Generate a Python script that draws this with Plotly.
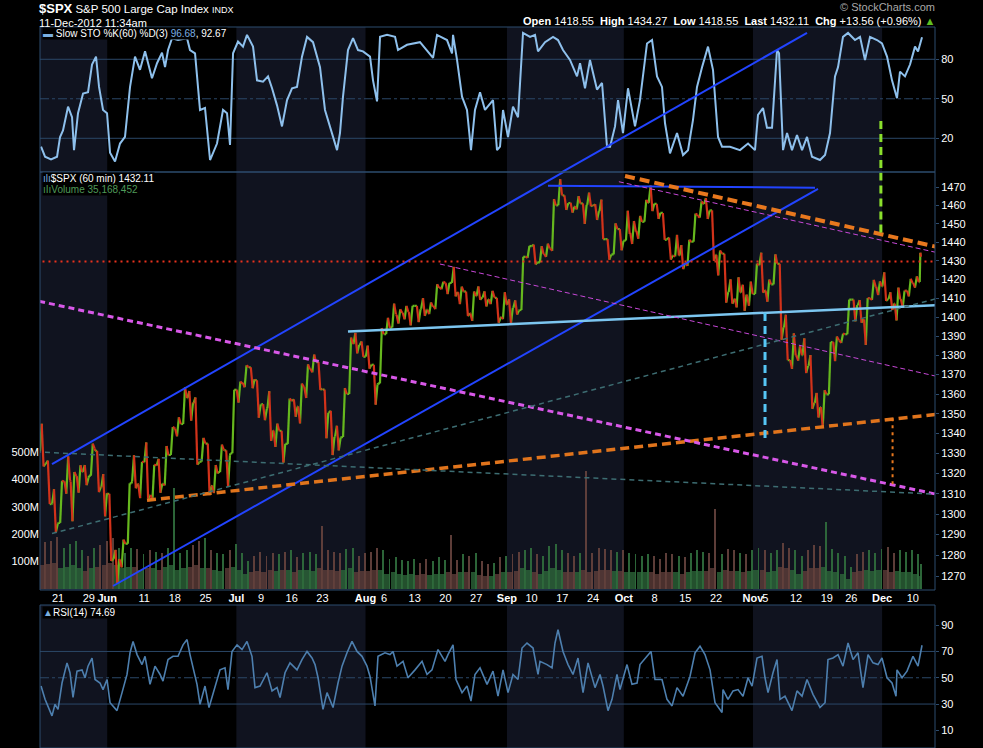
import math
import pandas as pd
import plotly.graph_objects as go

# ---------------- calendar ----------------
holidays = ['2012-05-28', '2012-07-04', '2012-09-03', '2012-10-29', '2012-10-30', '2012-11-22']
all_days = pd.bdate_range('2012-05-16', '2012-12-11')
trade_days = [d.strftime('%Y-%m-%d') for d in all_days if d.strftime('%Y-%m-%d') not in holidays]
i0 = trade_days.index('2012-05-21')
day_pos = {d: i - i0 for i, d in enumerate(trade_days)}

# ---------------- daily price data (SPX) ----------------
opens = [1330.8, 1324.8, 1305.1, 1295.7, 1316.1, 1316.0, 1318.7, 1320.8, 1318.9, 1331.3, 1313.1,
         1309.9, 1278.3, 1277.8, 1285.6, 1316.2, 1314.6, 1325.7, 1309.4, 1324.0, 1314.9, 1329.2, 1342.4, 1344.8, 1358.0, 1355.4, 1325.9, 1334.9, 1314.1, 1320.7, 1331.5, 1330.1,
         1362.3, 1365.8, 1373.7, 1367.1, 1354.7, 1352.9, 1341.4, 1341.3, 1334.8, 1356.5, 1353.7, 1363.6, 1373.0, 1376.5, 1362.3, 1350.5, 1338.4, 1338.2, 1360.1, 1385.9, 1385.3,
         1379.3, 1375.1, 1365.5, 1391.0, 1394.5, 1401.2, 1402.3, 1402.6, 1405.9, 1404.4, 1403.9, 1405.8, 1415.8, 1417.9, 1418.1, 1413.1, 1413.5, 1401.9, 1411.1, 1410.4, 1409.3, 1410.1, 1400.1,
         1406.5, 1404.9, 1403.7, 1432.1, 1437.9, 1429.1, 1433.6, 1436.6, 1460.1, 1465.4, 1461.2, 1459.5, 1461.1, 1460.3, 1459.8, 1456.9, 1441.6, 1433.4, 1447.1,
         1440.9, 1445.0, 1446.1, 1451.1, 1461.4, 1460.9, 1455.9, 1441.5, 1432.8, 1432.8, 1428.8, 1440.3, 1454.2, 1460.9, 1457.3, 1433.2, 1433.7, 1413.2, 1409.7, 1413.0, 1411.0,
         1412.2, 1427.6, 1414.0, 1417.3, 1428.3, 1394.5, 1377.6, 1379.9, 1380.0, 1374.6, 1355.4, 1353.4, 1359.9, 1386.8, 1387.8, 1391.0, 1409.2, 1406.3, 1398.8, 1410.0, 1416.0,
         1416.3, 1409.5, 1407.1, 1409.4, 1414.0, 1418.1, 1418.55]
highs = [1344.9, 1326.4, 1312.2, 1316.4, 1328.5, 1320.7, 1324.1, 1324.2, 1334.9, 1331.3, 1319.7,
         1309.9, 1282.6, 1287.6, 1315.1, 1329.1, 1325.8, 1335.5, 1324.3, 1327.3, 1333.7, 1343.3, 1348.2, 1363.5, 1361.6, 1358.3, 1337.8, 1334.9, 1324.2, 1334.4, 1331.5, 1362.2,
         1366.4, 1374.8, 1373.8, 1367.1, 1354.9, 1361.5, 1345.0, 1341.3, 1357.7, 1357.3, 1365.4, 1375.3, 1380.4, 1376.5, 1362.3, 1351.5, 1343.9, 1363.1, 1389.2, 1391.7, 1387.2,
         1385.0, 1375.1, 1394.2, 1399.6, 1407.1, 1404.1, 1405.9, 1405.9, 1405.9, 1410.0, 1407.7, 1417.4, 1418.7, 1418.1, 1426.7, 1416.1, 1413.5, 1413.5, 1416.2, 1413.6, 1413.9, 1410.1, 1413.1,
         1409.3, 1408.8, 1432.1, 1437.9, 1438.7, 1437.8, 1439.2, 1463.5, 1474.5, 1465.6, 1461.5, 1465.1, 1461.2, 1467.1, 1460.7, 1463.2, 1441.6, 1450.2, 1447.1,
         1457.1, 1451.5, 1454.3, 1463.1, 1471.0, 1460.9, 1455.9, 1442.5, 1443.9, 1438.4, 1441.3, 1455.5, 1462.2, 1464.0, 1457.3, 1435.5, 1433.7, 1420.0, 1421.1, 1417.1, 1418.8,
         1428.4, 1434.3, 1419.9, 1433.4, 1428.3, 1401.2, 1391.4, 1384.9, 1388.8, 1380.1, 1360.6, 1362.0, 1386.9, 1389.8, 1391.3, 1409.2, 1409.2, 1409.0, 1410.0, 1419.7, 1418.9,
         1423.7, 1413.1, 1415.6, 1414.0, 1420.3, 1421.6, 1434.27]
lows = [1323.5, 1304.9, 1291.0, 1295.7, 1310.0, 1296.5, 1310.5, 1314.2, 1318.9, 1310.8, 1298.9,
        1277.3, 1266.7, 1274.2, 1285.6, 1312.7, 1307.8, 1307.7, 1306.6, 1310.5, 1314.1, 1329.2, 1338.6, 1344.8, 1346.5, 1324.4, 1325.9, 1309.3, 1310.3, 1320.7, 1313.3, 1330.1,
        1355.7, 1363.5, 1363.0, 1348.0, 1346.7, 1336.3, 1333.3, 1325.4, 1334.8, 1348.5, 1345.1, 1358.0, 1371.2, 1362.2, 1337.6, 1329.2, 1331.5, 1338.2, 1360.1, 1381.0, 1379.2,
        1373.1, 1354.6, 1365.5, 1391.0, 1394.5, 1396.6, 1398.8, 1395.6, 1397.3, 1400.6, 1401.5, 1404.2, 1414.7, 1412.1, 1410.9, 1406.8, 1400.5, 1398.0, 1409.1, 1405.6, 1406.8, 1397.0, 1398.9,
        1396.6, 1401.3, 1403.7, 1431.5, 1428.0, 1429.1, 1432.0, 1435.3, 1460.1, 1457.6, 1456.1, 1457.9, 1449.9, 1459.5, 1452.1, 1441.6, 1430.5, 1433.4, 1435.6,
        1440.9, 1439.0, 1441.9, 1451.1, 1456.9, 1452.7, 1441.2, 1430.6, 1432.3, 1425.5, 1427.2, 1440.3, 1453.4, 1452.6, 1429.9, 1422.1, 1407.6, 1407.1, 1405.1, 1403.3, 1406.0,
        1412.2, 1412.9, 1408.1, 1417.3, 1388.1, 1377.5, 1373.0, 1377.2, 1370.8, 1352.5, 1348.1, 1343.4, 1359.9, 1377.0, 1386.4, 1391.0, 1397.7, 1397.0, 1385.4, 1409.0, 1411.6,
        1408.5, 1403.7, 1398.2, 1405.0, 1410.9, 1415.6, 1418.55]
closes = [1324.8, 1304.9, 1295.2, 1316.0, 1316.6, 1318.9, 1320.7, 1317.8, 1332.4, 1313.3, 1310.3,
          1278.0, 1278.2, 1285.5, 1315.1, 1315.0, 1325.7, 1308.9, 1324.2, 1314.9, 1329.1, 1342.8, 1344.8, 1358.0, 1355.7, 1325.5, 1335.0, 1313.7, 1320.0, 1331.9, 1329.0, 1362.2,
          1365.5, 1374.0, 1367.6, 1354.7, 1352.5, 1341.5, 1341.5, 1334.8, 1356.8, 1353.6, 1363.7, 1372.8, 1376.5, 1362.7, 1350.5, 1338.3, 1337.9, 1360.0, 1386.0, 1385.3, 1379.3,
          1375.1, 1365.0, 1391.0, 1394.2, 1401.4, 1402.2, 1402.8, 1405.9, 1404.1, 1403.9, 1405.5, 1415.5, 1418.2, 1418.1, 1413.2, 1413.5, 1402.1, 1411.1, 1410.4, 1409.3, 1410.5, 1399.5, 1406.6,
          1404.9, 1403.4, 1432.1, 1437.9, 1429.1, 1433.6, 1436.6, 1460.0, 1465.8, 1461.2, 1459.3, 1461.1, 1460.3, 1460.2, 1456.9, 1441.6, 1433.3, 1447.2, 1440.7,
          1444.5, 1445.8, 1451.0, 1461.4, 1460.9, 1455.9, 1441.5, 1432.6, 1432.8, 1428.6, 1440.1, 1454.9, 1460.9, 1457.3, 1433.2, 1433.8, 1413.1, 1408.8, 1413.0, 1411.9, 1412.2,
          1427.6, 1414.2, 1417.3, 1428.4, 1394.5, 1377.5, 1379.9, 1380.0, 1374.5, 1355.5, 1353.3, 1359.9, 1386.9, 1387.8, 1391.0, 1409.2, 1406.3, 1398.9, 1409.9, 1416.0, 1416.2,
          1409.5, 1407.1, 1409.3, 1413.9, 1418.1, 1418.6, 1432.11]

# volume per day (millions): closing-hour bar and typical hourly bar
vol_peak = [170, 175, 190, 150, 165, 175, 140, 120, 150, 160, 175,
            185, 150, 130, 150, 145, 125, 140, 135, 130, 150, 368, 130, 140, 160, 175, 184, 140, 130, 125, 140, 165,
            130, 100, 120, 135, 120, 130, 125, 135, 140, 115, 130, 135, 125, 229, 140, 135, 130, 145, 150, 120, 130,
            135, 150, 140, 110, 115, 105, 100, 110, 95, 110, 100, 115, 105, 196, 105, 125, 120, 130, 100, 90, 95, 115, 120,
            125, 135, 140, 150, 125, 120, 155, 165, 140, 130, 120, 130, 430, 130, 150, 145, 140, 135, 140,
            130, 125, 120, 125, 120, 110, 130, 125, 120, 115, 130, 140, 135, 130, 291, 125, 145, 140, 130, 125, 140,
            150, 140, 130, 140, 167, 150, 140, 120, 140, 160, 155, 244, 145, 130, 120, 80, 125, 135, 140, 130, 145,
            152, 130, 140, 135, 140, 125, 90]
vol_base = [85, 90, 95, 75, 80, 85, 75, 65, 75, 80, 85,
            95, 85, 75, 80, 80, 70, 75, 75, 70, 80, 85, 70, 75, 80, 85, 75, 75, 70, 65, 75, 80,
            70, 55, 60, 65, 60, 70, 65, 70, 70, 60, 70, 70, 65, 75, 70, 70, 65, 70, 75, 60, 65,
            65, 70, 70, 55, 60, 55, 50, 55, 50, 55, 50, 55, 55, 60, 55, 60, 60, 60, 50, 45, 45, 55, 60,
            60, 65, 75, 70, 60, 55, 65, 75, 70, 60, 60, 60, 70, 60, 65, 70, 70, 65, 65,
            60, 60, 60, 60, 60, 55, 60, 60, 60, 55, 60, 65, 65, 65, 75, 60, 70, 65, 65, 60, 65,
            70, 70, 60, 65, 80, 75, 70, 55, 65, 75, 75, 80, 65, 60, 55, 35, 60, 65, 70, 65, 70,
            70, 60, 65, 60, 60, 55, 45]

# Slow stochastic %K(60) readings: (trading days since 21 May, value)
sto_t = [-2.76, -2.11, -1.14, -0.16, 0.33, 0.81, 1.63, 2.28, 2.60, 3.25, 4.07, 4.88, 5.53, 6.18, 6.67, 7.32, 7.97, 8.46, 9.27, 10.08,
         10.89, 11.71, 12.52, 13.33, 14.15, 15.28, 16.10, 16.91, 17.40, 17.89, 18.54, 19.51, 20.98, 21.46, 22.28, 23.09, 23.90, 24.72, 25.85, 26.83,
         27.48, 27.97, 28.46, 29.27, 30.08, 30.73, 31.71, 32.36, 33.33, 34.15, 34.80, 35.61, 36.42, 37.24, 38.05, 38.86, 39.67, 40.49, 41.46, 42.60,
         43.41, 44.23, 45.37, 45.85, 46.34, 47.15, 47.97, 48.78, 49.59, 50.73, 51.22, 51.87, 52.36, 53.50, 54.80, 55.28, 56.75, 58.86, 60.98, 61.63,
         63.25, 64.07, 64.23, 64.88, 65.69, 66.50, 67.15, 67.80, 68.62, 69.43, 70.24, 70.73, 71.38, 71.87, 72.36, 73.17, 73.98, 74.80, 75.61, 76.75,
         77.56, 78.05, 79.19, 80.49, 81.30, 82.11, 83.25, 84.39, 84.88, 85.69, 86.50, 87.64, 88.46, 89.27, 89.76, 90.57, 91.06, 91.87, 92.68, 93.82,
         94.63, 95.77, 96.59, 97.40, 98.21, 98.70, 99.51, 100.65, 101.63, 102.44, 103.25, 103.90, 104.72, 105.69, 106.50, 107.32, 107.97, 109.27, 110.89, 112.20,
         113.33, 113.82, 114.63, 115.28, 116.10, 116.91, 117.24, 117.89, 118.54, 119.35, 120.16, 120.98, 121.79, 122.60, 123.90, 124.72, 125.53, 126.34, 126.83, 127.64,
         128.46, 129.59, 130.41, 131.22, 132.03, 133.17, 133.98, 134.80, 135.61, 136.42, 136.91, 137.72, 138.54, 139.35, 139.84, 140.49]
sto_v = [13.6, 6, 4, 6, 21, 26, 44, 36, 11, 39, 54, 55, 76, 82, 59, 41.5, 39, 9, 2.3, 16,
         21, 59, 82, 72, 86, 65.6, 77, 85, 74, 87, 96, 94.6, 96, 87, 84.5, 41.5, 43, 3.5, 16, 41.5,
         39, 15, 84.5, 93.4, 89.6, 98.5, 89.6, 64, 63, 67, 58, 45, 29, 49, 58, 59, 82, 97, 93, 74,
         41.5, 29, 11, 24, 51.6, 87, 96, 87, 86, 82, 64, 48, 97, 98.5, 97, 87, 91, 93, 81, 98.5,
         94.6, 84.5, 98.5, 79.5, 51.6, 41.5, 11, 41.5, 55, 41.5, 46.7, 49, 11, 13.6, 41.5, 21, 44, 36, 100, 97,
         98.5, 86, 93, 97, 94.6, 87, 79.5, 67, 77, 58, 79.5, 57, 62, 13.6, 13.6, 29, 49, 24, 58, 29,
         49, 92, 94.6, 67, 59, 31.4, 8.6, 24, 7.3, 11, 34, 59, 74, 89.6, 72, 21, 13.6, 13.6, 11, 16,
         11, 37.7, 43, 28, 28, 87, 84.5, 11, 24, 11, 22.5, 11, 21, 6, 3.5, 7.3, 24, 67, 74, 97,
         100, 94.6, 97, 79.5, 97, 94.6, 92, 82, 64, 50.4, 70.6, 67, 76, 89.6, 86, 96.68]

# RSI(14) readings: (trading days since 21 May, value)
rsi_t = [-2.76, -2.11, -0.98, -0.49, 0, 0.65, 1.46, 1.95, 2.44, 3.09, 3.90, 4.39, 4.88, 5.53, 6.02, 6.83, 7.32, 7.97, 8.46, 9.59,
         10.41, 11.22, 11.71, 12.20, 12.85, 13.66, 14.15, 14.96, 15.77, 16.59, 17.07, 17.89, 18.70, 19.51, 20.33, 20.98, 21.46, 21.95, 22.60, 23.09,
         23.90, 24.55, 25.53, 26.34, 27.15, 27.64, 28.29, 29.11, 29.92, 30.73, 31.54, 32.03, 32.85, 33.98, 34.80, 35.61, 36.10, 36.91, 37.72, 38.86,
         39.67, 40.49, 41.30, 41.79, 42.28, 43.09, 43.74, 44.72, 45.53, 46.18, 46.99, 47.80, 48.62, 49.43, 50.24, 50.73, 51.54, 52.03, 53.17, 53.98,
         54.47, 55.12, 56.10, 56.91, 58.05, 59.19, 60.00, 60.81, 61.79, 62.93, 63.41, 64.23, 64.72, 65.69, 66.50, 67.15, 67.80, 68.62, 69.76, 70.73,
         71.54, 72.36, 73.17, 73.98, 74.80, 75.45, 76.26, 77.24, 78.05, 78.37, 79.51, 80.33, 80.81, 81.30, 82.11, 82.93, 83.74, 84.55, 85.37, 86.18,
         87.32, 88.13, 88.62, 89.43, 90.08, 90.89, 91.38, 92.52, 93.33, 94.15, 94.63, 95.77, 96.42, 97.07, 98.21, 99.02, 99.84, 100.65, 101.63, 102.76,
         103.58, 104.39, 105.20, 106.02, 106.83, 107.97, 108.13, 108.94, 109.76, 110.57, 111.38, 112.20, 112.85, 113.66, 114.47, 114.96, 115.45, 116.26, 116.91, 117.40,
         118.21, 119.35, 120.16, 120.98, 121.79, 122.76, 123.90, 124.72, 125.20, 126.02, 126.83, 127.64, 128.46, 129.27, 130.08, 130.89, 131.71, 132.52, 133.33, 133.98,
         134.80, 135.61, 136.26, 136.42, 137.24, 138.05, 139.02, 139.84, 140.49]
rsi_v = [43.7, 33.6, 21, 29.8, 26, 46, 61.3, 53.8, 35, 55, 56, 50, 58.8, 65, 48.7, 46, 41, 48.7, 31, 25,
         38.7, 52.5, 69, 77.6, 67.6, 60, 66.3, 45, 58.8, 52.5, 47.4, 63.8, 66.3, 66.3, 75, 79, 67.6, 57.5, 45, 29.8,
         43.7, 27.4, 42.5, 56, 57.5, 41, 70, 75, 71.4, 77.6, 66.3, 42.5, 43.7, 53.8, 40, 42.5, 35, 53.8, 61.3, 56,
         63.8, 70, 65, 60, 50, 26, 38.7, 27.4, 46, 58.8, 69, 77.6, 70, 66.3, 58.8, 51, 28.6, 66.3, 69, 67.6,
         70, 58.8, 62.5, 50, 56, 62.5, 52.5, 56, 71.4, 62.5, 67.6, 75, 48.7, 38.7, 43.7, 32.3, 52.5, 57.5, 45, 55,
         36, 56, 38.7, 52.5, 48.7, 72.6, 76.4, 72.6, 52.5, 62.5, 60, 57.5, 76.4, 86.5, 70, 60, 52.5, 65, 38.7, 61.3,
         42.5, 52.5, 43.7, 25, 33.6, 52.5, 41, 60, 45, 46, 60, 66.3, 70, 48.7, 48.7, 33.6, 28.6, 42.5, 36, 51,
         69, 74, 67.6, 56, 31, 23.6, 41, 33.6, 40, 41, 36, 50, 43.7, 65, 66.3, 50, 38.7, 53.8, 63.8, 33.6,
         36, 25, 40, 36, 48.7, 37.4, 27.4, 31, 63.8, 65, 67.6, 58.8, 76.4, 63.8, 69, 42.5, 67.6, 61.3, 60, 65,
         50, 46, 36, 56, 50, 55, 66.3, 58.8, 74.69]

# axis ticks
tick_dates = ['2012-05-21', '2012-05-29', '2012-06-01', '2012-06-11', '2012-06-18', '2012-06-25', '2012-07-02', '2012-07-09',
              '2012-07-16', '2012-07-23', '2012-08-01', '2012-08-06', '2012-08-13', '2012-08-20', '2012-08-27', '2012-09-04',
              '2012-09-10', '2012-09-17', '2012-09-24', '2012-10-01', '2012-10-08', '2012-10-15', '2012-10-22', '2012-11-01',
              '2012-11-05', '2012-11-12', '2012-11-19', '2012-11-26', '2012-12-03', '2012-12-10']
tick_text = ['21', '29', '<b>Jun</b>', '11', '18', '25', '<b>Jul</b>', '9', '16', '23', '<b>Aug</b>', '6', '13', '20', '27',
             '<b>Sep</b>', '10', '17', '24', '<b>Oct</b>', '8', '15', '22', '<b>Nov</b>', '5', '12', '19', '26', '<b>Dec</b>', '10']
shaded_months = [('2012-05-16', '2012-06-01'), ('2012-07-02', '2012-08-01'), ('2012-09-04', '2012-10-01'), ('2012-11-01', '2012-12-03')]
price_ticks = list(range(1270, 1471, 10))
vol_ticks = [100, 200, 300, 400, 500]

# analyst trendlines on the price panel: (trading days, prices)
trendlines = [
    dict(x=[-0.98, 121.79], y=[1324.6, 1557.9], color='#2244ff', width=2, dash='solid'),
    dict(x=[8.94, 123.58], y=[1265.3, 1469.1], color='#2244ff', width=2, dash='solid'),
    dict(x=[79.67, 123.09], y=[1470.9, 1469.8], color='#2244ff', width=2, dash='solid'),
    dict(x=[47.15, 145.5], y=[1392.4, 1406.7], color='#7cc6f0', width=2.5, dash='solid'),
    dict(x=[-3.5, 145.0], y=[1429.5, 1429.5], color='#e8321e', width=2, dash='2px,4px'),
    dict(x=[92.2, 145.85], y=[1476.3, 1435.2], color='#e8781e', width=4, dash='10px,5px'),
    dict(x=[14.47, 148.3], y=[1306.8, 1351.5], color='#e0741c', width=3.5, dash='9px,5px'),
    dict(x=[-9.43, 150.4], y=[1412.8, 1304.8], color='#d858e8', width=3, dash='6px,4px'),
    dict(x=[91.2, 149.1], y=[1473.1, 1429.8], color='#c848d8', width=1, dash='5px,3px'),
    dict(x=[62.1, 147.8], y=[1428.2, 1365.6], color='#c848d8', width=1, dash='5px,3px'),
    dict(x=[-0.98, 148.3], y=[1290.5, 1414.5], color='#3d6d72', width=1.5, dash='5px,4px'),
    dict(x=[-9.43, 150.4], y=[1331.6, 1308.7], color='#3d6d72', width=1.5, dash='5px,4px'),
    dict(x=[114.96, 114.96], y=[1402.1, 1336.6], color='#56c6f5', width=3, dash='8px,5px'),
    dict(x=[133.8, 133.8], y=[1500.0, 1443.8], color='#8be02c', width=3, dash='8px,5px'),
    dict(x=[135.7, 135.7], y=[1347.7, 1313.2], color='#e8781e', width=2, dash='3px,4px'),
]
# trendlines crossing into the stochastic panel: (trading days, %K)
sto_lines = [
    dict(x=[73.98, 121.79], y=[-26.8, 100.0], color='#2244ff', width=2, dash='solid'),
    dict(x=[133.8, 133.8], y=[33.15, -10.0], color='#8be02c', width=3, dash='8px,5px'),
]

# ---------------- layout geometry ----------------
W, H = 983, 748
ML, MR, MT, MB = 40, 48, 27, 0
PW, PH = W - ML - MR, H - MT - MB
def py(p):
    return 1 - (p - MT) / PH
def px(p):
    return (p - ML) / PW

dom_sto = [py(172), 1.0]
dom_main = [py(590), py(172)]
dom_rsi = [0.0, py(605)]
x_range = [-2.93, 142.6]

BG = '#000000'
NAVY = '#10131f'
GRID = '#2b4868'
FRAME = '#2d4c6e'
FONT = 'Liberation Sans, Arial, sans-serif'

n = len(closes)
idx = [day_pos[d] for d in trade_days[:n]]

# ---------------- price path (hourly-style strokes) ----------------
pts_x, pts_y = [], []
for i in range(n):
    frac = 1.0 if i < n - 1 else 0.33
    o, h, l, c = opens[i], highs[i], lows[i], closes[i]
    seq = [o, l, h, c] if c >= o else [o, h, l, c]
    for k, v in enumerate(seq):
        pts_x.append(idx[i] + frac * (0.05 + 0.3 * k))
        pts_y.append(v)
gx, gy, rx, ry = [], [], [], []
for k in range(1, len(pts_x)):
    if pts_y[k] >= pts_y[k - 1]:
        gx += [pts_x[k - 1], pts_x[k], None]; gy += [pts_y[k - 1], pts_y[k], None]
    else:
        rx += [pts_x[k - 1], pts_x[k], None]; ry += [pts_y[k - 1], pts_y[k], None]

fig = go.Figure()

# volume
up_day = [closes[i] >= (closes[i - 1] if i > 0 else opens[i]) for i in range(n)]
vcol = ['#2f6b3c' if u else '#63413c' for u in up_day]
fig.add_trace(go.Bar(x=[idx[i] + (0.5 if i < n - 1 else 0.16) for i in range(n)], y=[v * 1e6 for v in vol_base],
                     width=[0.85 if i < n - 1 else 0.3 for i in range(n)], marker=dict(color=vcol, line=dict(width=0)),
                     opacity=0.75, xaxis='x', yaxis='y2', hoverinfo='skip'))
fig.add_trace(go.Bar(x=[idx[i] + (0.9 if i < n - 1 else 0.3) for i in range(n)], y=[v * 1e6 for v in vol_peak],
                     width=0.16, marker=dict(color=vcol, line=dict(width=0)), opacity=0.95,
                     xaxis='x', yaxis='y2', hoverinfo='skip'))

# price
fig.add_trace(go.Scatter(x=gx, y=gy, mode='lines', line=dict(color='#66b81e', width=2.2), xaxis='x', yaxis='y3', hoverinfo='skip'))
fig.add_trace(go.Scatter(x=rx, y=ry, mode='lines', line=dict(color='#d2321a', width=2.2), xaxis='x', yaxis='y3', hoverinfo='skip'))

for tl in trendlines:
    fig.add_trace(go.Scatter(x=tl['x'], y=tl['y'], mode='lines', xaxis='x', yaxis='y3', hoverinfo='skip',
                             line=dict(color=tl['color'], width=tl['width'], dash=tl['dash'])))

# stochastic
fig.add_trace(go.Scatter(x=sto_t, y=sto_v, mode='lines', line=dict(color='#8ec0ec', width=2), xaxis='x', yaxis='y', hoverinfo='skip'))
for tl in sto_lines:
    fig.add_trace(go.Scatter(x=tl['x'], y=tl['y'], mode='lines', xaxis='x', yaxis='y', hoverinfo='skip',
                             line=dict(color=tl['color'], width=tl['width'], dash=tl['dash'])))

# RSI
fig.add_trace(go.Scatter(x=rsi_t, y=rsi_v, mode='lines', line=dict(color='#4d7fae', width=1.6), xaxis='x', yaxis='y4', hoverinfo='skip'))

# ---------------- shapes ----------------
shapes = []
for a, b in shaded_months:
    x0 = max(day_pos[a], x_range[0]); x1 = day_pos[b]
    for dom in (dom_sto, dom_main, dom_rsi):
        shapes.append(dict(type='rect', xref='x', yref='paper', x0=x0, x1=x1, y0=dom[0], y1=dom[1],
                           fillcolor=NAVY, line=dict(width=0), layer='below'))
for v, d in ((80, 'solid'), (50, 'dashdot'), (20, 'solid')):
    shapes.append(dict(type='line', xref='paper', yref='y', x0=0, x1=1, y0=v, y1=v, line=dict(color=GRID, width=1, dash=d), layer='below'))
for v, d in ((70, 'solid'), (50, 'dashdot'), (30, 'solid')):
    shapes.append(dict(type='line', xref='paper', yref='y4', x0=0, x1=1, y0=v, y1=v, line=dict(color=GRID, width=1, dash=d), layer='below'))
for dom in (dom_sto, dom_main, dom_rsi):
    shapes.append(dict(type='rect', xref='paper', yref='paper', x0=0, x1=1, y0=dom[0], y1=dom[1],
                       line=dict(color=FRAME, width=1), fillcolor='rgba(0,0,0,0)', layer='above'))

# ---------------- annotations ----------------
ann = []
def text(xp, yp, s, size=11, color='#ffffff', xanchor='left', yanchor='middle', bg=None):
    d = dict(xref='paper', yref='paper', x=px(xp), y=py(yp), text=s, showarrow=False, xanchor=xanchor, yanchor=yanchor,
             font=dict(family=FONT, size=size, color=color), borderpad=0)
    if bg:
        d['bgcolor'] = bg
    ann.append(d)

text(38, 0, "<b><span style='font-size:13px'>$SPX</span></b> S&amp;P 500 Large Cap Index <span style='font-size:9px'>INDX</span>",
     size=11.5, yanchor='top')
text(38, 15.5, "11-Dec-2012 11:34am", size=11, yanchor='top')
text(936, 0, "© StockCharts.com", size=11, color='#a8a8a8', xanchor='right', yanchor='top')
text(936, 14, "<b>Open</b> 1418.55  <b>High</b> 1434.27  <b>Low</b> 1418.55  <b>Last</b> 1432.11  <b>Chg</b> +13.56 (+0.96%) <span style='color:#60c020'>▲</span>",
     size=11, xanchor='right', yanchor='top')
text(42, 33, "<span style='color:#7aaee0'>▬</span> Slow STO %K(60) %D(3) <span style='color:#7aaee0'>96.68</span>, 92.67", size=10, bg='#000000')
text(42, 178, "<span style='color:#7aaee0'>ılı</span>$SPX (60 min) 1432.11", size=10, bg='#000000')
text(42, 189, "<span style='color:#4f9a58'>ıIı</span><span style='color:#4f9a58'>Volume 35,168,452</span>", size=10, bg='#000000')
text(42, 612, "<span style='color:#7aaee0'>▲</span>RSI(14) 74.69", size=10, bg='#000000')

tickfont = dict(family=FONT, size=11, color='#ffffff')
fig.update_layout(
    width=W, height=H, margin=dict(l=ML, r=MR, t=MT, b=MB, pad=0),
    paper_bgcolor=BG, plot_bgcolor=BG, showlegend=False, barmode='overlay', bargap=0,
    font=dict(family=FONT, color='#ffffff'),
    xaxis=dict(domain=[0, 1], range=x_range, anchor='y2', tickmode='array', tickvals=[day_pos[d] for d in tick_dates],
               ticktext=tick_text, tickangle=0, showgrid=False, zeroline=False, showline=False, ticks='', tickfont=tickfont,
               fixedrange=True),
    yaxis=dict(domain=dom_sto, range=[-5.6, 104.5], side='right', anchor='x', tickvals=[20, 50, 80], showgrid=False,
               zeroline=False, showline=False, ticks='outside', ticklen=3, tickcolor=FRAME, tickfont=tickfont),
    yaxis2=dict(domain=dom_main, range=[-5e6, 1525e6], side='left', anchor='x', tickvals=[v * 1e6 for v in vol_ticks],
                ticktext=[f'{v}M' for v in vol_ticks], showgrid=False, zeroline=False, showline=False, ticks='',
                tickfont=tickfont),
    yaxis3=dict(overlaying='y2', side='right', anchor='x', type='log', range=[math.log10(1263.4), math.log10(1478.5)],
                tickvals=price_ticks, ticktext=[str(v) for v in price_ticks], showgrid=False, zeroline=False, showline=False,
                ticks='outside', ticklen=3, tickcolor=FRAME, tickfont=tickfont),
    yaxis4=dict(domain=dom_rsi, range=[-3.4, 105.3], side='right', anchor='x', tickvals=[10, 30, 50, 70, 90], showgrid=False,
                zeroline=False, showline=False, ticks='outside', ticklen=3, tickcolor=FRAME, tickfont=tickfont),
    shapes=shapes, annotations=ann,
)

fig.write_html("out.html", config={'displayModeBar': False},
               post_script="document.body.style.margin='0';document.body.style.background='#000';")
